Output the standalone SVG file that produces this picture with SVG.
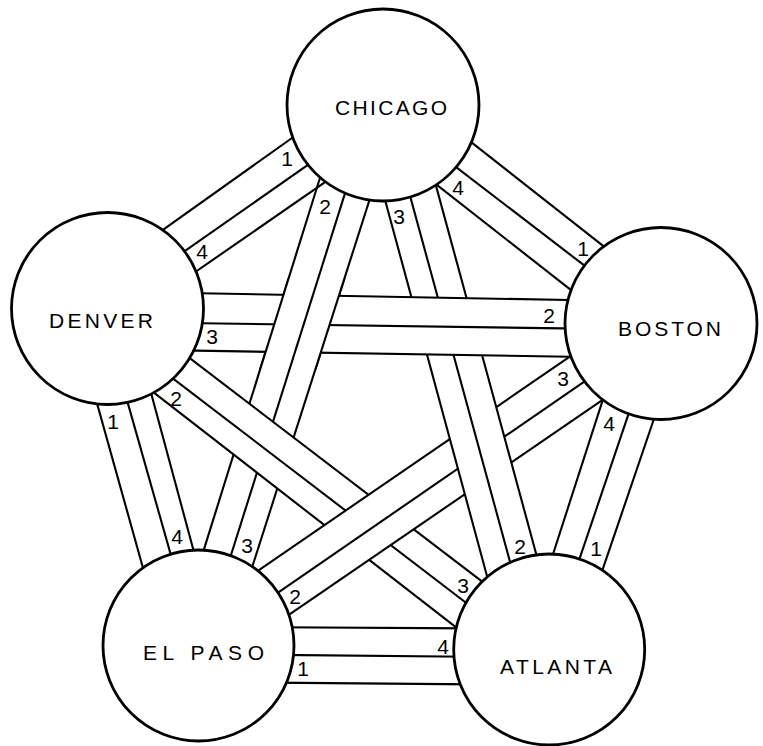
<svg xmlns="http://www.w3.org/2000/svg" xmlns:xlink="http://www.w3.org/1999/xlink" width="763" height="746" viewBox="0 0 763 746">
<defs>
<style>
.ln{stroke:#000;stroke-width:2.1;fill:none}
.band{fill:#fff;stroke:none}
.node circle{fill:#fff;stroke:#000;stroke-width:2.8}
.name{font-family:"Liberation Sans",Arial,sans-serif;font-size:21px;fill:#000}
.num{font-family:"Liberation Sans",Arial,sans-serif;font-size:21px;fill:#000;text-anchor:middle}
</style>
<clipPath id="cx"><rect x="255" y="278" width="125" height="92"/></clipPath>
</defs>
<rect width="763" height="746" fill="#fff"/>
<g id="connectors">
  <g id="band-CE">
    <polygon class="band" points="321.5,173 199.2,564.6 248.5,578.6 373.1,188.7"/>
    <line class="ln" x1="321.5" y1="173" x2="199.2" y2="564.6"/>
    <line class="ln" x1="347.5" y1="185.4" x2="226.9" y2="568"/>
    <line class="ln" x1="373.1" y1="188.7" x2="248.5" y2="578.6"/>
  </g>
  <g id="band-DA">
    <polygon class="band" points="177.3,348.6 492.7,589.7 467.7,636.4 142.3,383.6"/>
    <line class="ln" x1="177.3" y1="348.6" x2="492.7" y2="589.7"/>
    <line class="ln" x1="162.3" y1="370.3" x2="479.4" y2="613"/>
    <line class="ln" x1="142.3" y1="383.6" x2="467.7" y2="636.4"/>
  </g>
  <g id="band-BE">
    <polygon class="band" points="578.2,350.9 246.8,578.4 276.8,623.1 613.2,392.6"/>
    <line class="ln" x1="578.2" y1="350.9" x2="246.8" y2="578.4"/>
    <line class="ln" x1="595.9" y1="373.6" x2="266.1" y2="600.8"/>
    <line class="ln" x1="613.2" y1="392.6" x2="276.8" y2="623.1"/>
  </g>
  <g id="band-CA">
    <polygon class="band" points="381.8,187.9 490.9,590.4 540.2,568.7 432.5,172.9"/>
    <line class="ln" x1="381.8" y1="187.9" x2="490.9" y2="590.4"/>
    <line class="ln" x1="406.5" y1="182.9" x2="514.2" y2="577.1"/>
    <line class="ln" x1="432.5" y1="172.9" x2="540.2" y2="568.7"/>
  </g>
  <g id="band-DB">
    <polygon class="band" points="186.7,293 582.7,300.3 586,357 180.7,350.4"/>
    <line class="ln" x1="186.7" y1="293" x2="582.7" y2="300.3"/>
    <line class="ln" x1="184" y1="323" x2="580.3" y2="328.6"/>
    <line class="ln" x1="180.7" y1="350.4" x2="586" y2="357"/>
  </g>
  <use xlink:href="#band-CE" clip-path="url(#cx)"/>
  <g id="band-CD">
    <line class="ln" x1="304.7" y1="129" x2="152" y2="237.6"/>
    <line class="ln" x1="319.7" y1="156.7" x2="173" y2="259.3"/>
    <line class="ln" x1="333" y1="176.7" x2="183.7" y2="280"/>
  </g>
  <g id="band-CB">
    <line class="ln" x1="458.1" y1="131.8" x2="613.3" y2="253.9"/>
    <line class="ln" x1="443.4" y1="157.4" x2="596.6" y2="274.9"/>
    <line class="ln" x1="425.7" y1="176.1" x2="582.6" y2="299.2"/>
  </g>
  <g id="band-DE">
    <line class="ln" x1="94" y1="392.6" x2="146" y2="578.7"/>
    <line class="ln" x1="124" y1="389.6" x2="174.3" y2="567.1"/>
    <line class="ln" x1="147.4" y1="379.6" x2="197.6" y2="565.4"/>
  </g>
  <g id="band-EA">
    <line class="ln" x1="275.7" y1="627.2" x2="471" y2="628.4"/>
    <line class="ln" x1="275.7" y1="654.9" x2="469.3" y2="656.8"/>
    <line class="ln" x1="270" y1="682.6" x2="475.3" y2="684.4"/>
  </g>
  <g id="band-BA">
    <line class="ln" x1="606.6" y1="388.1" x2="548.4" y2="568.5"/>
    <line class="ln" x1="632.2" y1="403.1" x2="575.1" y2="571.9"/>
    <line class="ln" x1="658.2" y1="406.5" x2="598.4" y2="581.9"/>
  </g>
</g>
<g id="chicago" class="node">
  <circle cx="383" cy="105" r="96"/>
  <text class="name" x="335" y="115" textLength="112" lengthAdjust="spacing">CHICAGO</text>
</g>
<g id="denver" class="node">
  <circle cx="107.5" cy="308.5" r="96"/>
  <text class="name" x="49" y="327.5" textLength="104" lengthAdjust="spacing">DENVER</text>
</g>
<g id="boston" class="node">
  <circle cx="661" cy="323.5" r="96"/>
  <text class="name" x="618" y="336" textLength="103" lengthAdjust="spacing">BOSTON</text>
</g>
<g id="elpaso" class="node">
  <circle cx="198.5" cy="645.5" r="95.5"/>
  <text class="name" x="143" y="660" textLength="121" lengthAdjust="spacing">EL PASO</text>
</g>
<g id="atlanta" class="node">
  <circle cx="549.2" cy="649.5" r="95.5"/>
  <text class="name" x="500" y="674" textLength="112" lengthAdjust="spacing">ATLANTA</text>
</g>
<g id="port-labels">
  <text class="num" x="287" y="165.5">1</text>
  <text class="num" x="202" y="259">4</text>
  <text class="num" x="458" y="194.5">4</text>
  <text class="num" x="583" y="255.5">1</text>
  <text class="num" x="113" y="429">1</text>
  <text class="num" x="177" y="544">4</text>
  <text class="num" x="443" y="654">4</text>
  <text class="num" x="303" y="675.5">1</text>
  <text class="num" x="609" y="430.5">4</text>
  <text class="num" x="596" y="555.5">1</text>
  <text class="num" x="212" y="344">3</text>
  <text class="num" x="549" y="322.5">2</text>
  <text class="num" x="325" y="213.5">2</text>
  <text class="num" x="247" y="552.5">3</text>
  <text class="num" x="399" y="224">3</text>
  <text class="num" x="520" y="553.5">2</text>
  <text class="num" x="176" y="405.5">2</text>
  <text class="num" x="463" y="592.5">3</text>
  <text class="num" x="563" y="385.5">3</text>
  <text class="num" x="295" y="604">2</text>
</g>
</svg>
